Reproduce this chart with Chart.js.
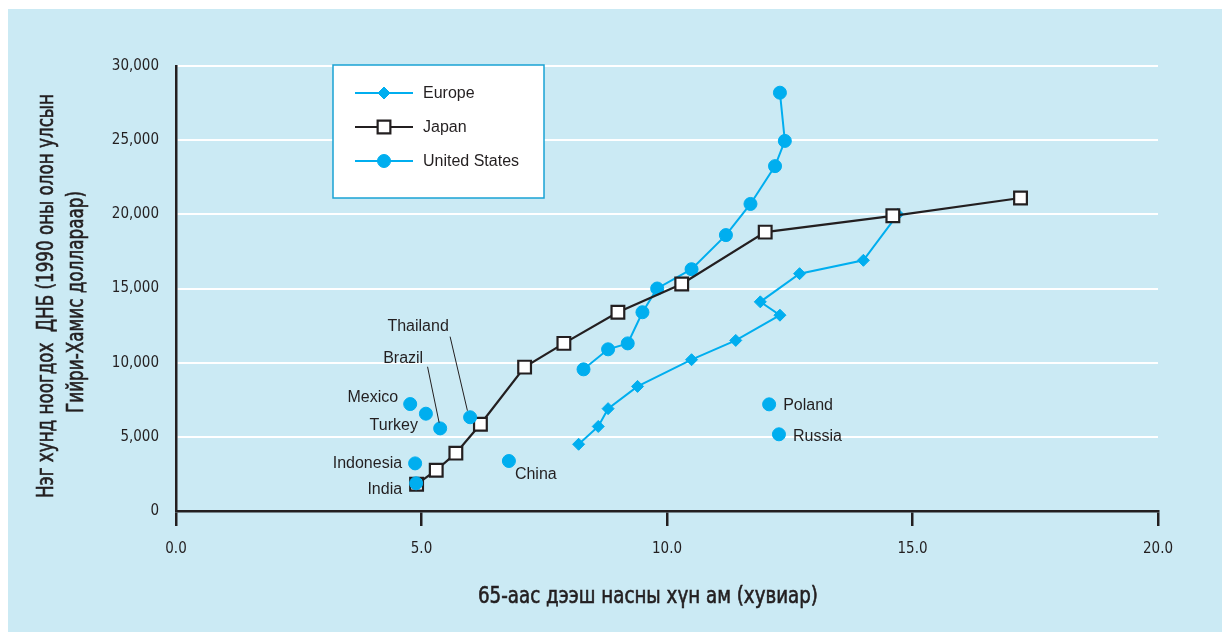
<!DOCTYPE html>
<html>
<head>
<meta charset="utf-8">
<script src="https://cdn.jsdelivr.net/npm/chart.js@4.4.1/dist/chart.umd.min.js"></script>
<style>
  html, body { margin: 0; padding: 0; background: #fff; }
  canvas { display: block; }
</style>
</head>
<body>
<canvas id="myChart" width="1222" height="632"></canvas>
<script>
// 65+ population share (%) vs GDP per capita (1990 intl. Geary-Khamis $)
const europeX = [8.2, 8.6, 8.8, 9.4, 10.5, 11.4, 12.3, 11.9, 12.7, 14.0, 14.7];
const europeY = [4500, 5700, 6900, 8400, 10200, 11500, 13200, 14100, 16000, 16900, 20000];

const japanX = [4.9, 5.3, 5.7, 6.2, 7.1, 7.9, 9.0, 10.3, 12.0, 14.6, 17.2];
const japanY = [1800, 2750, 3900, 5850, 9700, 11300, 13400, 15300, 18800, 19900, 21100];

const usX = [8.3, 8.8, 9.2, 9.5, 9.8, 10.5, 11.2, 11.7, 12.2, 12.4, 12.3];
const usY = [9550, 10900, 11300, 13400, 15000, 16300, 18600, 20700, 23250, 24950, 28200];

const countryNames = ['India', 'Indonesia', 'China', 'Mexico', 'Turkey', 'Brazil', 'Thailand', 'Poland', 'Russia'];
const countryX = [4.89, 4.87, 6.78, 4.77, 5.09, 5.38, 5.99, 12.08, 12.28];
const countryY = [1870, 3210, 3370, 7210, 6560, 5570, 6320, 7190, 5170];

const seriesNames = ['Europe', 'Japan', 'United States'];
const xTicks = [0, 5, 10, 15, 20];
const yTicks = [0, 5000, 10000, 15000, 20000, 25000, 30000];

const xTitle = '65-аас дээш насны хүн ам (хувиар)';
const yTitle = ['Нэг хунд ноогдох  ДНБ (1990 оны олон улсын', 'Гийри-Хамис доллараар)'];

// label placement relative to the dot (px): align, dx, dy, leader line
const labelPos = {
    India: ['right', -14, 6],
    Indonesia: ['right', -13, 0],
    China: ['left', 6, 14],
    Mexico: ['right', -12, -6],
    Turkey: ['right', -8, 12],
    Brazil: ['center', -37, -70, [-12.6, -61.6, -1, -5.6]],
    Thailand: ['center', -52, -91, [-20, -80.6, -2.7, -6.6]],
    Poland: ['left', 14, 1.5],
    Russia: ['left', 14, 2.5]
};

const BLUE = '#00aeef';
const INK = '#231f20';
const BG = '#cbeaf4';
const NARROW = "'Liberation Sans Narrow', 'DejaVu Sans Condensed', 'Liberation Sans', sans-serif";
const PLAIN = "'Liberation Sans', Arial, sans-serif";

const toPoints = (xs, ys) => xs.map((x, i) => ({x: x, y: ys[i]}));

// squeeze a title into the width it has in the original, a bit heavier
function fitText(ctx, text, x, y, width) {
    const w = ctx.measureText(text).width;
    const k = Math.min(1, width / w);
    ctx.save();
    ctx.translate(x, y);
    ctx.scale(k, 1);
    ctx.fillText(text, 0, 0);
    ctx.strokeText(text, 0, 0);
    ctx.restore();
}

const decor = {
    id: 'decor',
    beforeDraw(chart) {
        const ctx = chart.ctx;
        ctx.save();
        ctx.fillStyle = '#fff';
        ctx.fillRect(0, 0, chart.width, chart.height);
        ctx.fillStyle = BG;
        ctx.fillRect(8, 9, chart.width - 8, chart.height - 9);
        ctx.restore();
    },
    afterDatasetsDraw(chart) {
        const ctx = chart.ctx;
        const xs = chart.scales.x, ys = chart.scales.y;
        ctx.save();

        // country labels
        ctx.fillStyle = INK;
        ctx.strokeStyle = INK;
        ctx.lineWidth = 1;
        ctx.font = '16px ' + PLAIN;
        ctx.textBaseline = 'middle';
        countryNames.forEach((name, i) => {
            const p = labelPos[name];
            const px = xs.getPixelForValue(countryX[i]);
            const py = ys.getPixelForValue(countryY[i]);
            ctx.textAlign = p[0];
            ctx.fillText(name, px + p[1], py + p[2]);
            if (p[3]) {
                ctx.beginPath();
                ctx.moveTo(px + p[3][0], py + p[3][1]);
                ctx.lineTo(px + p[3][2], py + p[3][3]);
                ctx.stroke();
            }
        });

        // legend box
        const lx = 333, ly = 65, lw = 211, lh = 133;
        ctx.fillStyle = '#fff';
        ctx.fillRect(lx, ly, lw, lh);
        ctx.strokeStyle = '#1aa3d4';
        ctx.lineWidth = 1.5;
        ctx.strokeRect(lx, ly, lw, lh);
        ctx.textAlign = 'left';
        chart.data.datasets.slice(1).forEach((ds, i) => {
            const yy = ly + 28 + i * 34;
            ctx.strokeStyle = ds.borderColor;
            ctx.lineWidth = 2;
            ctx.beginPath();
            ctx.moveTo(355, yy);
            ctx.lineTo(413, yy);
            ctx.stroke();
            ctx.fillStyle = ds.pointBackgroundColor;
            ctx.strokeStyle = ds.pointBorderColor;
            ctx.lineWidth = ds.pointBorderWidth;
            Chart.helpers.drawPoint(ctx, {
                pointStyle: ds.pointStyle,
                radius: ds.pointRadius,
                borderWidth: ds.pointBorderWidth
            }, 384, yy);
            ctx.fillStyle = INK;
            ctx.font = '16px ' + PLAIN;
            ctx.fillText(ds.label, 423, yy + 1);
        });
        ctx.restore();
    },
    afterDraw(chart) {
        const ctx = chart.ctx;
        ctx.save();
        ctx.fillStyle = INK;
        ctx.strokeStyle = INK;
        ctx.lineWidth = 0.6;
        ctx.textAlign = 'center';
        ctx.textBaseline = 'middle';
        ctx.font = '23px ' + NARROW;
        fitText(ctx, xTitle, 648, 597, 340);
        ctx.translate(0, 296);
        ctx.rotate(-Math.PI / 2);
        fitText(ctx, yTitle[0], 0, 47, 404);
        fitText(ctx, yTitle[1], -6, 77, 222);
        ctx.restore();
    }
};

const europe = {
    label: seriesNames[0],
    data: toPoints(europeX, europeY),
    showLine: true,
    borderColor: BLUE,
    borderWidth: 2,
    pointStyle: 'rectRot',
    pointRadius: 6,
    pointBackgroundColor: BLUE,
    pointBorderColor: BLUE,
    pointBorderWidth: 1,
    order: 4
};
const japan = {
    label: seriesNames[1],
    data: toPoints(japanX, japanY),
    showLine: true,
    borderColor: INK,
    borderWidth: 2.2,
    pointStyle: 'rect',
    pointRadius: 9,
    pointBackgroundColor: '#fff',
    pointBorderColor: INK,
    pointBorderWidth: 2.2,
    order: 2
};
const us = {
    label: seriesNames[2],
    data: toPoints(usX, usY),
    showLine: true,
    borderColor: BLUE,
    borderWidth: 2,
    pointStyle: 'circle',
    pointRadius: 6.5,
    pointBackgroundColor: BLUE,
    pointBorderColor: BLUE,
    pointBorderWidth: 1,
    order: 3
};
const countries = {
    label: 'countries',
    data: toPoints(countryX, countryY),
    showLine: false,
    pointStyle: 'circle',
    pointRadius: 6.5,
    pointBackgroundColor: BLUE,
    pointBorderColor: BLUE,
    pointBorderWidth: 1,
    order: 1
};

new Chart(document.getElementById('myChart'), {
    type: 'scatter',
    data: {datasets: [countries, europe, japan, us]},
    options: {
        responsive: false,
        animation: false,
        devicePixelRatio: 1,
        layout: {padding: {top: 66, right: 64, left: 0, bottom: 0}},
        plugins: {legend: {display: false}, tooltip: {enabled: false}},
        scales: {
            x: {
                type: 'linear',
                min: 0,
                max: 20,
                afterBuildTicks: (s) => { s.ticks = xTicks.map(v => ({value: v})); },
                afterFit: (s) => { s.height = 121; },
                ticks: {
                    padding: 14,
                    color: INK,
                    font: {family: NARROW, size: 15},
                    callback: (v) => Number(v).toFixed(1)
                },
                grid: {drawOnChartArea: false, color: INK, lineWidth: 2.5, tickLength: 15},
                border: {color: INK, width: 2.5}
            },
            y: {
                type: 'linear',
                min: 0,
                max: 30000,
                afterBuildTicks: (s) => { s.ticks = yTicks.map(v => ({value: v})); },
                afterFit: (s) => { s.width = 176; },
                ticks: {
                    padding: 17,
                    color: INK,
                    font: {family: NARROW, size: 15},
                    callback: (v) => Number(v).toLocaleString('en-US')
                },
                grid: {
                    drawTicks: false,
                    lineWidth: 2,
                    color: (c) => c.tick && c.tick.value === 0 ? 'rgba(0,0,0,0)' : '#ffffff'
                },
                border: {color: INK, width: 2.5}
            }
        }
    },
    plugins: [decor]
});
</script>
</body>
</html>
